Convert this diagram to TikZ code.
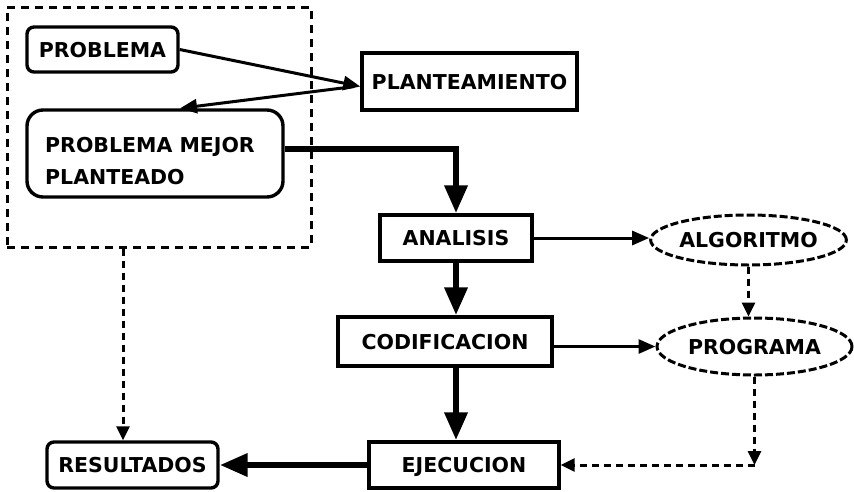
\documentclass[tikz,border=0pt]{standalone}
\usepackage{fontspec}
\setmainfont{DejaVu Sans}
\usetikzlibrary{arrows.meta,shapes.geometric}

\begin{document}
\begin{tikzpicture}[x=1pt,y=-1pt,
  lbl/.style={font=\fontsize{20.5}{32}\selectfont\bfseries},
  caps/.style={lbl, text height=15pt, text depth=0pt},
  stepbox/.style={draw, line width=3.4pt, inner sep=0pt, caps},
  roundbox/.style={stepbox, rounded corners=7pt},
  oval/.style={ellipse, draw, line width=3pt, dash pattern=on 8pt off 3pt, inner sep=0pt, caps},
  frame/.style={draw, line width=3pt, dash pattern=on 8pt off 6pt, inner sep=0pt},
  thinarrow/.style={line width=3pt, -{Triangle[length=17pt,width=14pt]}},
  thickarrow/.style={line width=6.5pt, -{Triangle[length=28pt,width=22pt]}},
  dasharrow/.style={line width=3pt, dash pattern=on 7pt off 5pt, -{Triangle[length=14pt,width=13pt]}}
]
\useasboundingbox (0,0) rectangle (854,491);

% dashed group around the problem statement
\node[frame, minimum width=304pt, minimum height=240pt] (grp) at (159,127) {};

\node[roundbox, minimum width=151pt, minimum height=45pt] (prob) at (102.5,49.5) {PROBLEMA};
\node[draw, line width=3.4pt, rounded corners=16pt, inner sep=0pt, minimum width=256pt, minimum height=87pt] (pmp) at (155,153.5) {};
\node[lbl, align=left, inner sep=0pt] (pmptext) at (150,161) {PROBLEMA MEJOR\\PLANTEADO};
\node[stepbox, minimum width=215pt, minimum height=57pt] (plan) at (469.5,81.5) {PLANTEAMIENTO};

% main chain
\node[stepbox, minimum width=152pt, minimum height=46pt] (ana) at (456,238) {ANALISIS};
\node[stepbox, minimum width=214pt, minimum height=49pt] (cod) at (445,341.5) {CODIFICACION};
\node[stepbox, minimum width=190pt, minimum height=46pt] (eje) at (464,465) {EJECUCION};
\node[roundbox, minimum width=171pt, minimum height=46pt] (res) at (132.5,465) {RESULTADOS};

% products
\node[oval, minimum width=183pt, minimum height=50pt] (alg) at (748.5,240) {ALGORITMO};
\node[oval, minimum width=195pt, minimum height=57pt] (prg) at (754.5,346.5) {PROGRAMA};

% connectors
\coordinate (pin) at ([yshift=-5pt]plan.west);
\coordinate (pmptop) at ([xshift=25pt]pmp.north);
\draw[thinarrow] (prob.east) -- (pin);
\draw[thinarrow] ([xshift=-6pt]pin) -- (pmptop);

\draw[thickarrow] ([yshift=4.5pt]pmp.east) -| (ana.north);
\draw[thickarrow] (ana.south) -- (ana.south |- cod.north);
\draw[thickarrow] (ana.south |- cod.south) -- (ana.south |- eje.north);
\draw[thickarrow] (eje.west) -- (res.east);

\draw[thinarrow] (ana.east) -- (ana.east -| alg.west);
\draw[thinarrow] (cod.east |- prg.west) -- (prg.west);

\coordinate (corner) at (prg.south |- eje.east);
\coordinate (restop) at ([xshift=-9.5pt]res.north);
\draw[dasharrow] (alg.south) -- (alg.south |- prg.north);
\draw[dasharrow] (prg.south) -- (corner);
\draw[dasharrow] (corner) -- (eje.east);
\draw[dasharrow] (grp.south -| restop) -- (restop);
\end{tikzpicture}
\end{document}
